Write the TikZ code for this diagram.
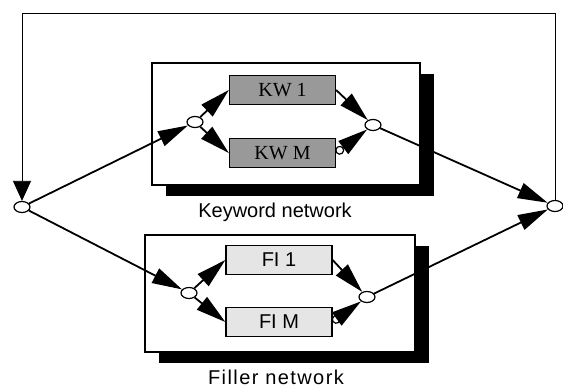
\documentclass[tikz,border=0pt]{standalone}
\usepackage{fontspec}
\setmainfont{Liberation Serif}
\newfontfamily\helv{Liberation Sans}
\usetikzlibrary{arrows.meta,shapes.geometric,shadows}
\tikzset{
  net/.style={draw,fill=white,line width=1.1pt,inner sep=0pt,
    drop shadow={shadow xshift=14pt,shadow yshift=-11pt,fill=black,opacity=1}},
  unit/.style={draw,line width=1.3pt,minimum width=106pt,minimum height=29pt,inner sep=0pt},
  kwunit/.style={unit,fill=black!40,font=\fontsize{20}{20}\selectfont},
  fiunit/.style={unit,fill=black!10,font=\helv\fontsize{20}{20}\selectfont},
  junc/.style={draw,ellipse,fill=white,line width=1.2pt,minimum width=16pt,minimum height=11pt,inner sep=0pt},
  big/.tip={Triangle[length=30pt 0,width=16pt 0]},
  link/.style={line width=1.8pt,-big},
  taillink/.style={line width=1.8pt,{Circle[open,length=9pt 0,width=9pt 0,line width=1.2pt]}-big},
  fb/.style={line width=0.8pt,-{Triangle[length=20pt 0,width=18pt 0]}},
  caption/.style={font=\helv\fontsize{20}{20}\selectfont}
}

\begin{document}
\begin{tikzpicture}[x=1pt,y=-1pt]
  \useasboundingbox (0,0) rectangle (563,388);
  % network frames
  \node[net,minimum width=268pt,minimum height=122pt] (kwnet) at (286,124) {};
  \node[net,minimum width=270pt,minimum height=117pt] (finet) at (280,293.5) {};
  \node[caption] (kwlab) at (275,212) {Keyword network};
  \node[caption] (filab) at (276,377) {\addfontfeatures{LetterSpace=7}Filler network};
  % models
  \node[kwunit] (kw1) at (282.5,90) {KW 1};
  \node[kwunit] (kwm) at (282.5,153) {KW M};
  \node[fiunit] (fi1) at (279,260) {FI 1};
  \node[fiunit] (fim) at (279,322) {FI M};
  % junctions
  \node[junc] (src) at (22,207) {};
  \node[junc] (snk) at (555,206) {};
  \node[junc] (kwin) at (195,122) {};
  \node[junc] (kwout) at (373,125) {};
  \node[junc] (fiin) at (189,293) {};
  \node[junc] (fiout) at (367,297) {};
  \coordinate (fbr) at (555,13);
  \coordinate (fbl) at (22,13);
  % connections
  \draw[link] (src) -- (kwin);
  \draw[link] (src) -- (fiin);
  \draw[link] (kwin) -- (kw1.west);
  \draw[link] (kwin) -- (kwm.west);
  \draw[link] (kw1.east) -- (kwout);
  \draw[taillink] (kwm.east) -- (kwout);
  \draw[link] (fiin) -- (fi1.west);
  \draw[link] (fiin) -- (fim.west);
  \draw[link] (fi1.east) -- (fiout);
  \draw[taillink] (fim.east) -- (fiout);
  \draw[link] (kwout) -- (snk);
  \draw[link] (fiout) -- (snk);
  \draw[fb] (snk.north) -- (fbr) -- (fbl) -- (src.north);
\end{tikzpicture}
\end{document}
